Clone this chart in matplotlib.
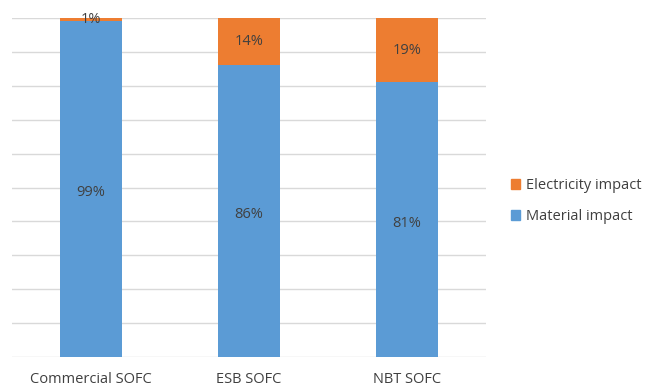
import matplotlib.pyplot as plt
from matplotlib.patches import Patch

# datos
categorias = ["Commercial SOFC", "ESB SOFC", "NBT SOFC"]
material = [99, 86, 81]
electricidad = [1, 14, 19]

azul = "#5B9BD5"
naranja = "#ED7D31"
gris_texto = "#404040"

plt.rcParams['font.family'] = ['Open Sans', 'DejaVu Sans']

fig = plt.figure(figsize=(6.48, 3.87), dpi=100)
ax = fig.add_axes([0.0185, 0.0775, 0.7315, 0.876])

x = range(len(categorias))
ancho = 0.39

ax.bar(x, material, width=ancho, color=azul, zorder=2)
ax.bar(x, electricidad, width=ancho, bottom=material, color=naranja, zorder=2)

# etiquetas de porcentaje
for i in x:
    ax.text(i, material[i] / 2 - 1, f"{material[i]}%", ha='center', va='center',
            fontsize=10.5, color=gris_texto, zorder=3)
    ax.text(i, material[i] + electricidad[i] / 2, f"{electricidad[i]}%",
            ha='center', va='center', fontsize=10.5, color=gris_texto, zorder=3)

# cuadrícula
for y in range(0, 101, 10):
    ax.axhline(y, color="#D9D9D9", linewidth=1, zorder=1)

ax.set_xlim(-0.5, 2.5)
ax.set_ylim(0, 100)
ax.set_yticks([])
ax.set_xticks(list(x))
ax.set_xticklabels(categorias, fontsize=10.5, color=gris_texto)
ax.tick_params(axis='x', length=0, pad=11)
for s in ax.spines.values():
    s.set_visible(False)

# leyenda
handles = [Patch(color=naranja, label="Electricity impact"),
           Patch(color=azul, label="Material impact")]
fig.legend(handles=handles, loc='center left', bbox_to_anchor=(0.768, 0.48),
           frameon=False, fontsize=10.5, handlelength=0.6, handleheight=0.6,
           handletextpad=0.45, labelspacing=1.1, labelcolor=gris_texto)

plt.savefig("out.png", dpi=100)
plt.close()
